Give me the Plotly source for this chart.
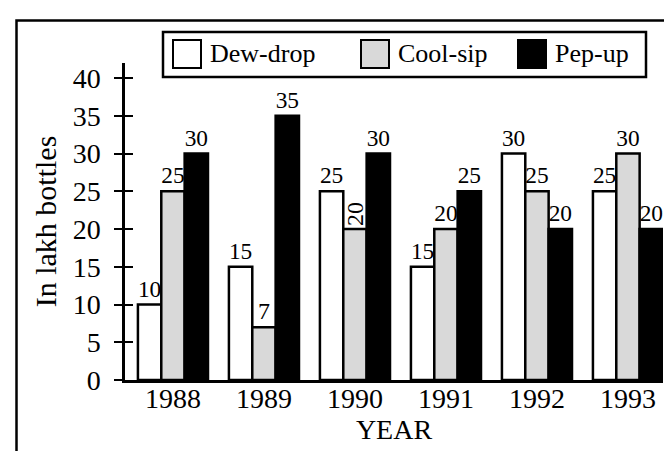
import plotly.graph_objects as go

years = ["1988", "1989", "1990", "1991", "1992", "1993"]
dew_drop = [10, 15, 25, 15, 30, 25]
cool_sip = [25, 7, 20, 20, 25, 30]
pep_up = [30, 35, 30, 25, 20, 20]
series_names = ["Dew-drop", "Cool-sip", "Pep-up"]
y_ticks = [0, 5, 10, 15, 20, 25, 30, 35, 40]

FONT = "Liberation Serif"
colors = ["#ffffff", "#d9d9d9", "#000000"]

W, H = 672, 451
ML, MR, MT, MB = 117, 17, 55, 79
PW, PH = W - ML - MR, H - MT - MB


def px2x(px):
    return (px - ML) / PW


def py2y(py):
    return (H - MB - py) / PH


fig = go.Figure()
all_vals = [dew_drop, cool_sip, pep_up]
for i, (name, vals) in enumerate(zip(series_names, all_vals)):
    texts = [str(v) for v in vals]
    if name == "Cool-sip":
        texts[2] = ""  # rotated label drawn separately
    fig.add_trace(go.Bar(
        x=years, y=vals, name=name,
        marker=dict(color=colors[i], line=dict(color="black", width=2.5)),
        text=texts, textposition="outside",
        textfont=dict(family=FONT, size=24, color="black"),
        cliponaxis=False, showlegend=False,
    ))

fig.add_trace(go.Scatter(x=[], y=[], yaxis="y2", showlegend=False))

# rotated label for 1990 Cool-sip (category index 2)
fig.add_annotation(x=2, y=cool_sip[2], text=str(cool_sip[2]),
                   xref="x", yref="y",
                   textangle=-90, showarrow=False, yanchor="bottom",
                   xanchor="center", yshift=1,
                   font=dict(family=FONT, size=24, color="black"))

shapes = []
# outer border
shapes.append(dict(type="rect", xref="paper", yref="paper",
                   x0=px2x(8.5), x1=px2x(667), y0=py2y(480), y1=py2y(12.5),
                   line=dict(color="black", width=2.5), fillcolor="rgba(0,0,0,0)"))
# legend box
shapes.append(dict(type="rect", xref="paper", yref="paper",
                   x0=px2x(155), x1=px2x(638), y0=py2y(69), y1=py2y(24),
                   line=dict(color="black", width=2.5), fillcolor="white"))
sw_x = [165, 353, 510]
txt_x = [200, 388, 545]
for i, name in enumerate(series_names):
    shapes.append(dict(type="rect", xref="paper", yref="paper",
                       x0=px2x(sw_x[i]), x1=px2x(sw_x[i] + 28),
                       y0=py2y(60), y1=py2y(32),
                       line=dict(color="black", width=2), fillcolor=colors[i]))
    fig.add_annotation(xref="paper", yref="paper", x=px2x(txt_x[i]), y=py2y(46),
                       text=name, showarrow=False, xanchor="left", yanchor="middle",
                       font=dict(family=FONT, size=26, color="black"))

fig.update_layout(
    width=W, height=H,
    margin=dict(l=ML, r=MR, t=MT, b=MB, pad=0),
    paper_bgcolor="white", plot_bgcolor="white",
    barmode="group", bargap=0.23, bargroupgap=0,
    font=dict(family=FONT, color="black"),
    shapes=shapes,
    xaxis=dict(type="category", range=[-0.527, 5.385], showline=True,
               linecolor="black", linewidth=2.5, ticks="", showgrid=False,
               tickfont=dict(size=28), ticklabelstandoff=-8,
               title=dict(text="YEAR", font=dict(size=28), standoff=6)),
    yaxis=dict(range=[0, 42], tickvals=y_ticks, ticks="outside", ticklen=8,
               tickwidth=2, tickcolor="black", showline=True, linecolor="black",
               linewidth=2.5, showgrid=False, zeroline=False,
               tickfont=dict(size=28), ticklabelstandoff=8,
               title=dict(text="In lakh bottles", font=dict(size=30), standoff=8)),
    yaxis2=dict(range=[0, 42], tickvals=y_ticks, ticks="inside", ticklen=8,
                tickwidth=2, tickcolor="black", overlaying="y", anchor="x",
                side="left", showline=False, showgrid=False, zeroline=False,
                showticklabels=False),
)

fig.write_html("out.html")
